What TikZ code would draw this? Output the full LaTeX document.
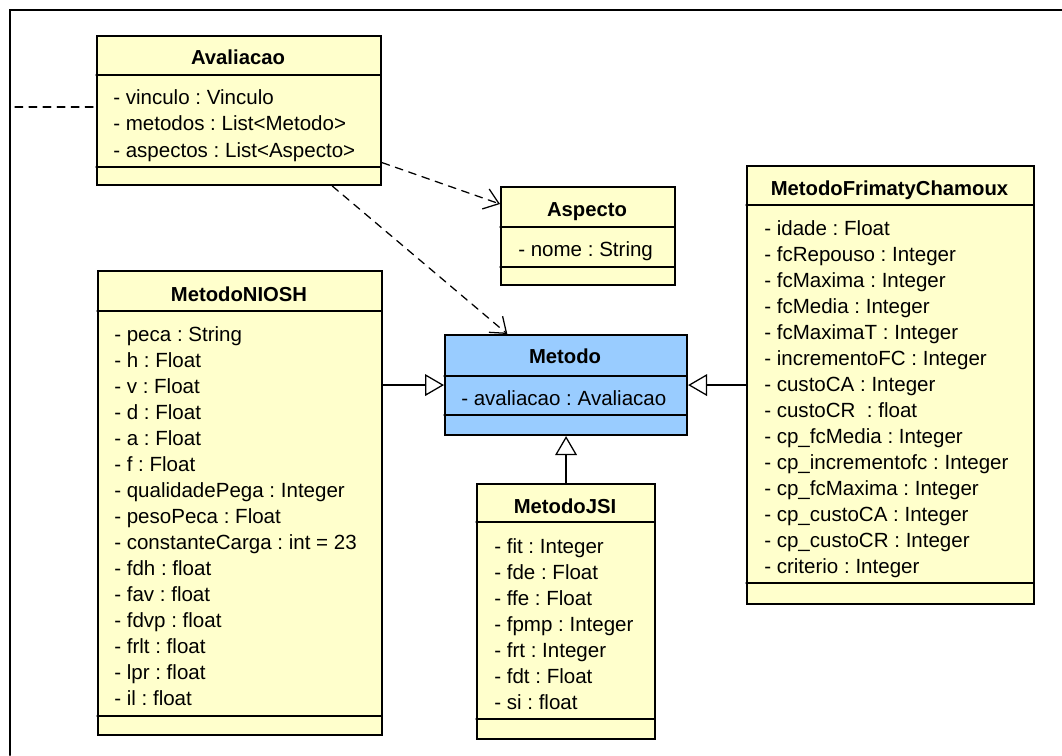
\documentclass[tikz,border=0pt]{standalone}
\usepackage{fontspec}
\setmainfont[Ligatures=NoCommon]{Liberation Sans}
\frenchspacing
\usetikzlibrary{arrows.meta}

\definecolor{classyellow}{RGB}{255,255,204}
\definecolor{classblue}{RGB}{153,204,255}

\tikzset{
  classbox/.style={draw, line width=1.5pt, fill=classyellow, anchor=north west, inner sep=0},
  divider/.style={line width=0.8pt},
  classname/.style={anchor=base, inner sep=0, font=\fontsize{14.4}{17}\selectfont\bfseries},
  attr/.style={anchor=base west, inner sep=0, font=\fontsize{14.6}{17}\selectfont},
  assoc/.style={line width=0.9pt, dash pattern=on 5.5pt off 4.5pt},
  dep/.style={assoc, -{Straight Barb[length=10pt, width=15pt, line width=0.9pt]}},
  gen/.style={line width=0.9pt, -{Triangle[open, length=13.5pt, width=15.5pt, line width=0.9pt, fill=white]}}
}

\begin{document}
\begin{tikzpicture}[x=0.025cm, y=-0.025cm, line cap=round]
\useasboundingbox (0,0) rectangle (1062,755);

    % frame
    \draw [line width=1.5pt] (10,755) -- (10,10) -- (1062,10);

    % Avaliacao
    \node [classbox, minimum width=284*0.025cm, minimum height=149*0.025cm] (aval) at (96,35) {};
    \draw [divider] (96,75) -- ++(284,0);
    \draw [divider] (96,167) -- ++(284,0);
    \node [classname] (aval-name) at (238,65) {Avaliacao};
    \foreach \t [count=\i from 0] in {- vinculo : Vinculo, - metodos : List<Metodo>, - aspectos : List<Aspecto>}
      \node [attr] (aval-\i) at (113,105+26*\i) {\t};

    % Aspecto
    \node [classbox, minimum width=174*0.025cm, minimum height=98*0.025cm] (asp) at (500,186) {};
    \draw [divider] (500,227) -- ++(174,0);
    \draw [divider] (500,267) -- ++(174,0);
    \node [classname] (asp-name) at (587,216) {Aspecto};
    \node [attr] (asp-0) at (518,256.5) {- nome : String};

    % Metodo
    \node [classbox, fill=classblue, minimum width=242*0.025cm, minimum height=100*0.025cm] (metodo) at (444,334) {};
    \draw [divider] (444,376) -- ++(242,0);
    \draw [divider] (444,415) -- ++(242,0);
    \node [classname] (metodo-name) at (565,363) {Metodo};
    \node [attr] (metodo-0) at (461,405.5) {- avaliacao : Avaliacao};

    % MetodoFrimatyChamoux
    \node [classbox, minimum width=287*0.025cm, minimum height=438*0.025cm] (fc) at (746,165) {};
    \draw [divider] (746,205) -- ++(287,0);
    \draw [divider] (746,583) -- ++(287,0);
    \node [classname] (fc-name) at (889.5,195) {MetodoFrimatyChamoux};
    \foreach \t [count=\i from 0] in {- idade : Float, - fcRepouso : Integer, - fcMaxima : Integer,
        - fcMedia : Integer, - fcMaximaT : Integer, - incrementoFC : Integer, - custoCA : Integer,
        - custoCR~ : float, - cp\_fcMedia : Integer, - cp\_incrementofc : Integer,
        - cp\_fcMaxima : Integer, - cp\_custoCA : Integer, - cp\_custoCR : Integer, - criterio : Integer}
      \node [attr] (fc-\i) at (764,235.5+26*\i) {\t};

    % MetodoNIOSH
    \node [classbox, minimum width=284*0.025cm, minimum height=464*0.025cm] (niosh) at (97,270) {};
    \draw [divider] (97,311) -- ++(284,0);
    \draw [divider] (97,716) -- ++(284,0);
    \node [classname] (niosh-name) at (239,301) {MetodoNIOSH};
    \foreach \t [count=\i from 0] in {- peca : String, - h : Float, - v : Float, - d : Float, - a : Float,
        - f : Float, - qualidadePega : Integer, - pesoPeca : Float, - constanteCarga : int = 23,
        - fdh : float, - fav : float, - fdvp : float, - frlt : float, - lpr : float, - il : float}
      \node [attr] (niosh-\i) at (114,341.5+26*\i) {\t};

    % MetodoJSI
    \node [classbox, minimum width=178*0.025cm, minimum height=255*0.025cm] (jsi) at (476,483) {};
    \draw [divider] (476,522) -- ++(178,0);
    \draw [divider] (476,719) -- ++(178,0);
    \node [classname] (jsi-name) at (565,513) {MetodoJSI};
    \foreach \t [count=\i from 0] in {- fit : Integer, - fde : Float, - ffe : Float, - fpmp : Integer,
        - frt : Integer, - fdt : Float, - si : float}
      \node [attr] (jsi-\i) at (494,553.5+26*\i) {\t};

    % dependencies
    \coordinate (outside) at (15,107);
    \draw [assoc] (outside) -- (outside -| aval.west);
    \draw [dep] (aval.-20.5) -- (asp.160);
    \draw [dep] (aval.-39) -- (metodo.139);

    % generalizations
    \draw [gen] (niosh.east |- metodo.west) -- (metodo.west);
    \draw [gen] (fc.west |- metodo.east) -- (metodo.east);
    \draw [gen] (jsi.north) -- (metodo.south);

\end{tikzpicture}
\end{document}
